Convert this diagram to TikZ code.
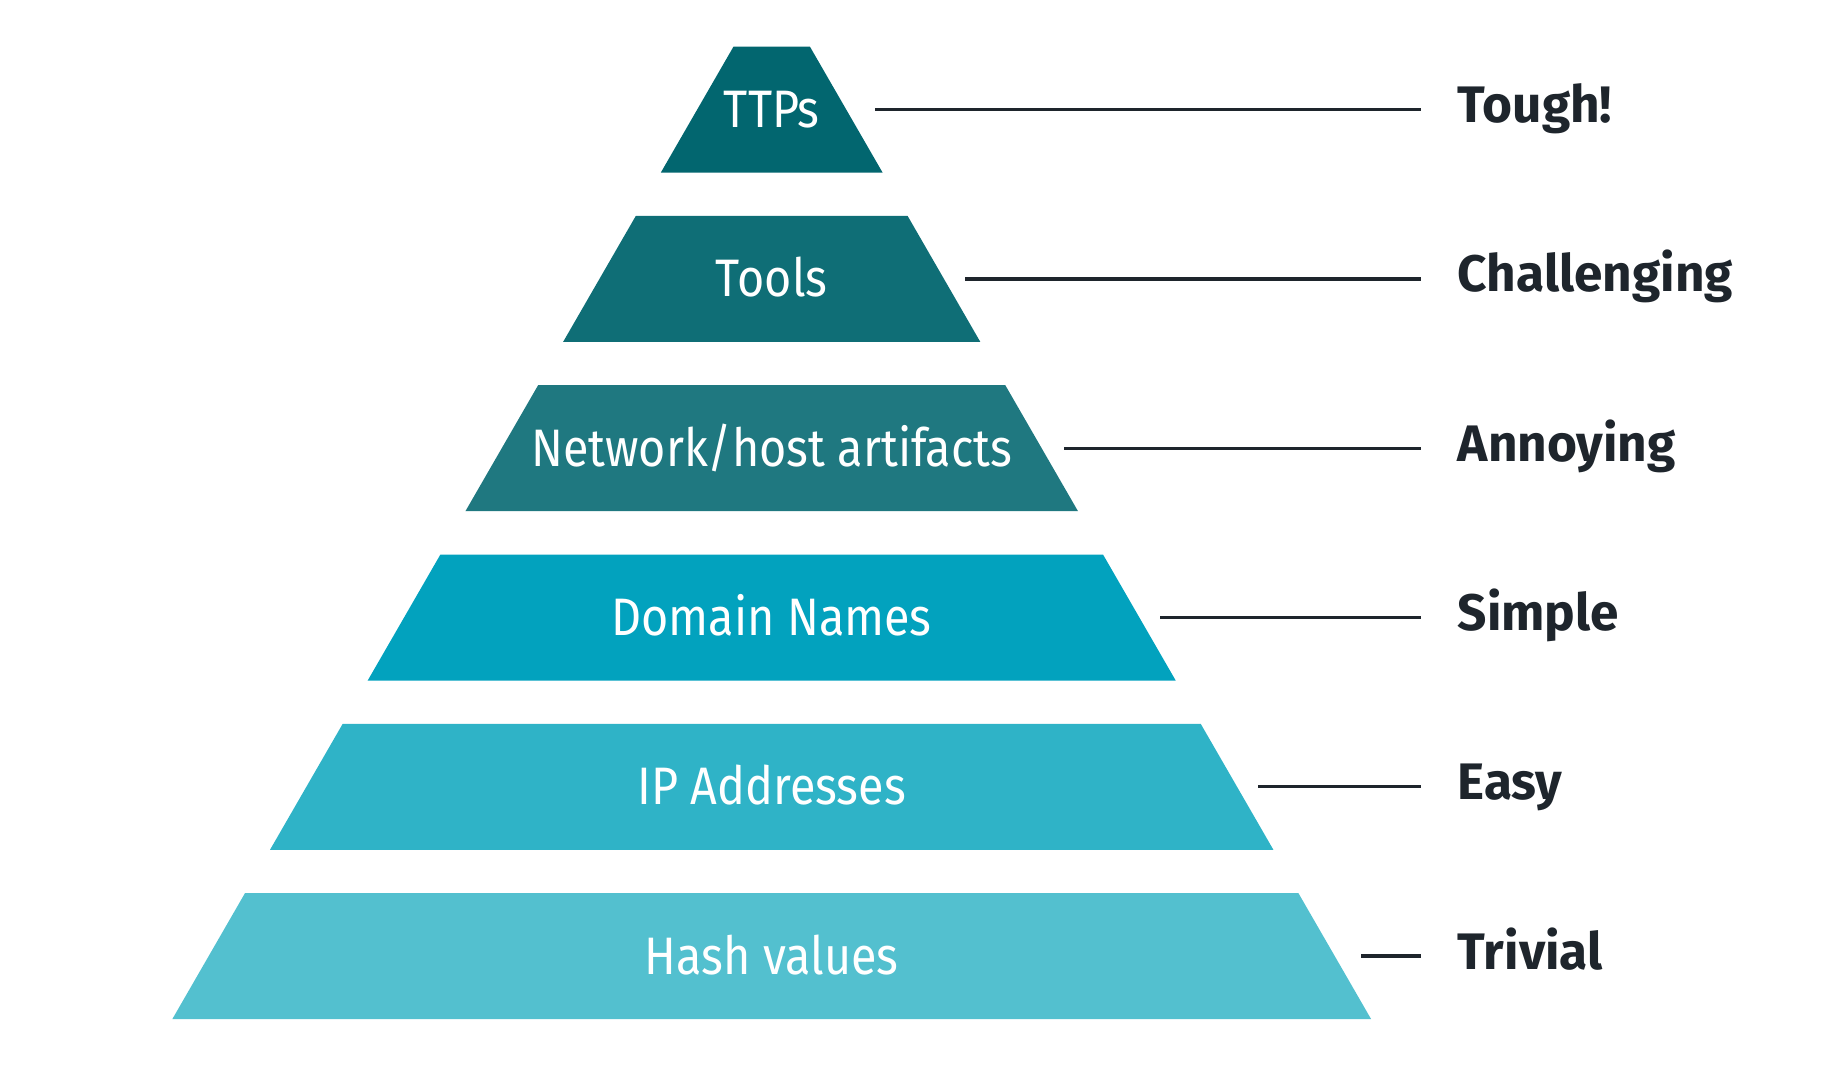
\documentclass[tikz,border=0pt]{standalone}
\usepackage{fontspec}
\setmainfont{Fira Sans}[FakeStretch=0.885]
\newfontfamily\labelfont{Fira Sans}
\usepackage{xcolor}
\usetikzlibrary{positioning}

\definecolor{ttpcol}{HTML}{02666F}
\definecolor{toolcol}{HTML}{0F6E76}
\definecolor{netcol}{HTML}{1F7880}
\definecolor{domcol}{HTML}{02A2BE}
\definecolor{ipcol}{HTML}{2FB3C7}
\definecolor{hashcol}{HTML}{53C0CF}
\definecolor{labcol}{HTML}{1E252C}

\begin{document}
\begin{tikzpicture}[
  x=0.01cm, y=-0.01cm,
  level/.style={inner sep=0pt, text=white, text height=0.36cm, text depth=0cm,
    font=\fontsize{15}{18}\selectfont},
  diff/.style={anchor=west, inner xsep=0.36cm, inner ysep=0pt, text=labcol,
    text height=0.35cm, text depth=0.09cm, font=\labelfont\fontsize{14.6}{18}\selectfont\bfseries},
  link/.style={draw=labcol, line width=0.95pt},
]
\useasboundingbox (0,0) rectangle (1825,1084);

% Levels, labels and links
\foreach \i/\txt/\col/\lab/\xs in {1/TTPs/ttpcol/Tough!/875, 2/Tools/toolcol/Challenging/965,
    3/{Network/host artifacts}/netcol/Annoying/1064, 4/Domain Names/domcol/Simple/1160,
    5/IP Addresses/ipcol/Easy/1258, 6/Hash values/hashcol/Trivial/1361} {
  \pgfmathsetmacro{\ymid}{109.6+169.3*(\i-1)}
  \pgfmathsetmacro{\htop}{38.2+97.7*(\i-1)}
  \pgfmathsetmacro{\hbot}{\htop+72.7}
  \fill[\col] (771.7-\htop,\ymid-63) -- (771.7+\htop,\ymid-63)
    -- (771.7+\hbot,\ymid+63) -- (771.7-\hbot,\ymid+63) -- cycle;
  \node[level] (lvl\i) at (771.7,\ymid) {\txt};
  \coordinate (edge\i) at (\xs,\ymid);
  \node[diff] (diff\i) at (1421,\ymid) {\lab};
  \draw[link] (edge\i) -- (diff\i.west);
}
\end{tikzpicture}
\end{document}
